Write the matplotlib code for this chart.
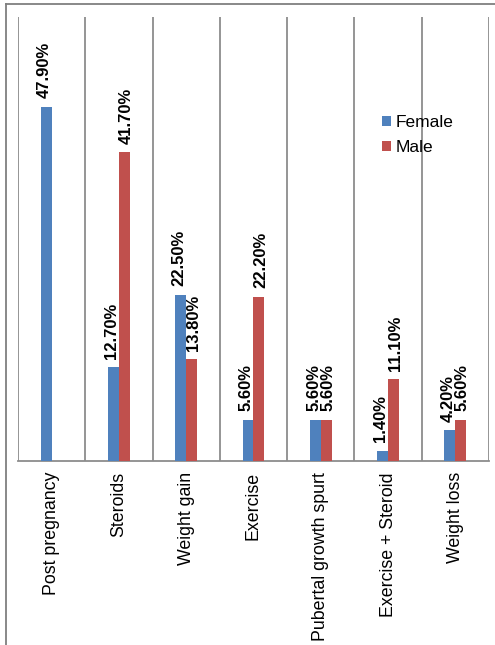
import numpy as np
import matplotlib
matplotlib.use("Agg")
import matplotlib.pyplot as plt
from matplotlib.lines import Line2D

categories = ["Post pregnancy", "Steroids", "Weight gain", "Exercise",
              "Pubertal growth spurt", "Exercise + Steroid", "Weight loss"]
female = [47.9, 12.7, 22.5, 5.6, 5.6, 1.4, 4.2]
male = [None, 41.7, 13.8, 22.2, 5.6, 11.1, 5.6]
series_names = ["Female", "Male"]

BLUE = "#4F81BD"
RED = "#C0504D"
GRID = "#8C8C8C"

plt.rcParams["font.family"] = ["Liberation Sans", "DejaVu Sans"]

W, H = 495, 645
fig = plt.figure(figsize=(W / 100, H / 100), dpi=100)
ax = fig.add_axes([18 / W, (H - 461) / H, (489 - 18) / W, (461 - 17) / H])

x = np.arange(len(categories))
w = 0.163
fvals = np.array(female, dtype=float)
mvals = np.array([np.nan if v is None else v for v in male], dtype=float)

bf = ax.bar(x - w / 2, fvals, w, color=BLUE, label=series_names[0], zorder=3)
bm = ax.bar(x + w / 2, mvals, w, color=RED, label=series_names[1], zorder=3)

# value labels, nudged slightly outward so paired labels sit side by side
for bars, vals, dx in ((bf, fvals, -1.2), (bm, mvals, 1.2)):
    for rect, v in zip(bars, vals):
        if np.isnan(v):
            continue
        ax.annotate(f"{v:.2f}%", (rect.get_x() + rect.get_width() / 2, v),
                    xytext=(dx, 6), textcoords="offset points",
                    rotation=90, ha="center", va="bottom",
                    fontsize=12.0, fontweight="bold", color="#000000")

ax.set_xlim(-0.5, len(categories) - 0.5)
ax.set_ylim(0, 60)

# category separators
for b in np.arange(-0.5, len(categories), 1.0):
    ax.axvline(b, color=GRID, lw=1.3, zorder=1)

ax.set_xticks(x)
ax.set_xticklabels(categories, rotation=90, fontsize=12.8)
ax.tick_params(axis="x", length=0, pad=8)
ax.set_yticks([])
for side in ("top", "right", "left"):
    ax.spines[side].set_visible(False)
ax.spines["bottom"].set_color(GRID)
ax.spines["bottom"].set_linewidth(1.3)

leg = ax.legend(loc="upper left",
                bbox_to_anchor=((382 - 18) / (489 - 18), (461 - 115) / (461 - 17)),
                frameon=False, fontsize=12.5, handlelength=0.5, handleheight=0.5,
                handletextpad=0.3, labelspacing=0.6, borderpad=0, borderaxespad=0)

# outer chart border (top and left edges)
fig.add_artist(Line2D([6 / W, 1.0], [1 - 4 / H, 1 - 4 / H], color="#7F7F7F", lw=1.3,
                      transform=fig.transFigure))
fig.add_artist(Line2D([6 / W, 6 / W], [0.0, 1 - 4 / H], color="#7F7F7F", lw=1.3,
                      transform=fig.transFigure))

fig.savefig("out.png", dpi=100)
